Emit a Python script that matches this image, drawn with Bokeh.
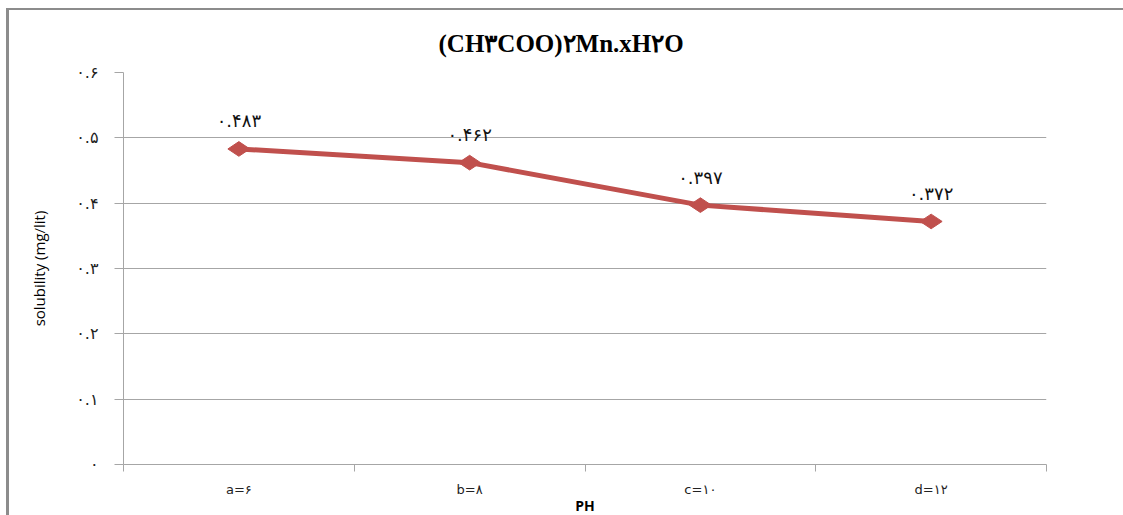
import math
from bokeh.plotting import figure
from bokeh.models import ColumnDataSource, FixedTicker, LabelSet, InlineStyleSheet
from bokeh.core.properties import value
from bokeh.embed import file_html
from bokeh.resources import INLINE

# pH categories, solubility values (mg/lit) and their printed labels
categories = ["a=۶", "b=۸", "c=۱۰", "d=۱۲"]
solubility = [0.483, 0.462, 0.397, 0.372]
value_labels = ["۰.۴۸۳", "۰.۴۶۲", "۰.۳۹۷", "۰.۳۷۲"]
y_ticks = [0.0, 0.1, 0.2, 0.3, 0.4, 0.5, 0.6]
y_tick_labels = ["۰", "۰.۱", "۰.۲", "۰.۳", "۰.۴", "۰.۵", "۰.۶"]

title_text = "(CH۳COO)۲Mn.xH۲O"
x_title = "PH"
y_title = "solubility (mg/lit)"

LINE = "#C0504D"
GRID = "#a6a6a6"
DIGIT_FONT = "DejaVu Sans"

n = len(categories)
x_pos = [i + 0.5 for i in range(n)]  # category centres on a 0..n axis

source = ColumnDataSource(dict(x=x_pos, y=solubility, lab=value_labels))

p = figure(
    width=1114, height=505,
    x_range=(0, n), y_range=(0, 0.6),
    output_backend="svg", toolbar_location=None,
    min_border_left=114, min_border_right=80,
    min_border_top=62, min_border_bottom=48,
)
p.stylesheets = [InlineStyleSheet(css=(
    ":host { box-sizing: content-box; margin: 8px 0 0 6px;"
    " border-top: 2px solid #8c8c8c; border-left: 3px solid #8c8c8c;"
    " border-right: 0 none; border-bottom: 0 none; }"
))]
p.outline_line_color = None
p.background_fill_color = "white"
p.border_fill_color = "white"

# chart title
p.title.text = title_text
p.title.align = "left"
p.title.offset = 315
p.title.standoff = 32
p.title.text_font = "Liberation Serif"
p.title.text_font_style = "bold"
p.title.text_font_size = "25px"
p.title.text_color = "#000000"

# y axis
p.yaxis.ticker = FixedTicker(ticks=y_ticks)
p.yaxis.major_label_overrides = {t: s for t, s in zip(y_ticks, y_tick_labels)}
p.yaxis.major_tick_out = 9
p.yaxis.major_tick_in = 0
p.yaxis.minor_tick_out = 0
p.yaxis.minor_tick_in = 0
p.yaxis.axis_line_color = GRID
p.yaxis.major_tick_line_color = GRID
p.yaxis.major_label_standoff = 16
p.yaxis.major_label_text_font = DIGIT_FONT
p.yaxis.major_label_text_font_size = "16px"
p.yaxis.major_label_text_color = "#222222"
p.yaxis.axis_label = y_title
p.yaxis.axis_label_standoff = 24
p.yaxis.axis_label_text_font = "Open Sans"
p.yaxis.axis_label_text_font_style = "normal"
p.yaxis.axis_label_text_font_size = "15px"
p.yaxis.axis_label_text_color = "#000000"

# x axis: labels at category centres, tick marks at category boundaries
p.xaxis.ticker = FixedTicker(ticks=x_pos, minor_ticks=list(range(n + 1)))
p.xaxis.major_label_overrides = {x: c for x, c in zip(x_pos, categories)}
p.xaxis.major_tick_out = 0
p.xaxis.major_tick_in = 0
p.xaxis.minor_tick_out = 7
p.xaxis.minor_tick_in = 0
p.xaxis.axis_line_color = GRID
p.xaxis.minor_tick_line_color = GRID
p.xaxis.major_label_standoff = 10
p.xaxis.major_label_text_font = DIGIT_FONT
p.xaxis.major_label_text_font_size = "13px"
p.xaxis.major_label_text_color = "#222222"
p.xaxis.axis_label = x_title
p.xaxis.axis_label_standoff = -4
p.xaxis.axis_label_text_font = "Open Sans"
p.xaxis.axis_label_text_font_style = "bold"
p.xaxis.axis_label_text_font_size = "14px"
p.xaxis.axis_label_text_color = "#000000"

p.xgrid.grid_line_color = None
p.ygrid.grid_line_color = GRID
p.ygrid.grid_line_width = 1

# series
p.line("x", "y", source=source, line_color=LINE, line_width=5)
p.scatter("x", "y", source=source, marker="diamond", size=22, angle=math.pi / 2,
          fill_color=LINE, line_color=LINE)

p.add_layout(LabelSet(x="x", y="y", text="lab", source=source, y_offset=28,
                      text_align="center", text_baseline="middle",
                      text_font=value(DIGIT_FONT), text_font_size=value("18px"),
                      text_color="#111111"))

open("out.html", "w").write(file_html(p, INLINE))
